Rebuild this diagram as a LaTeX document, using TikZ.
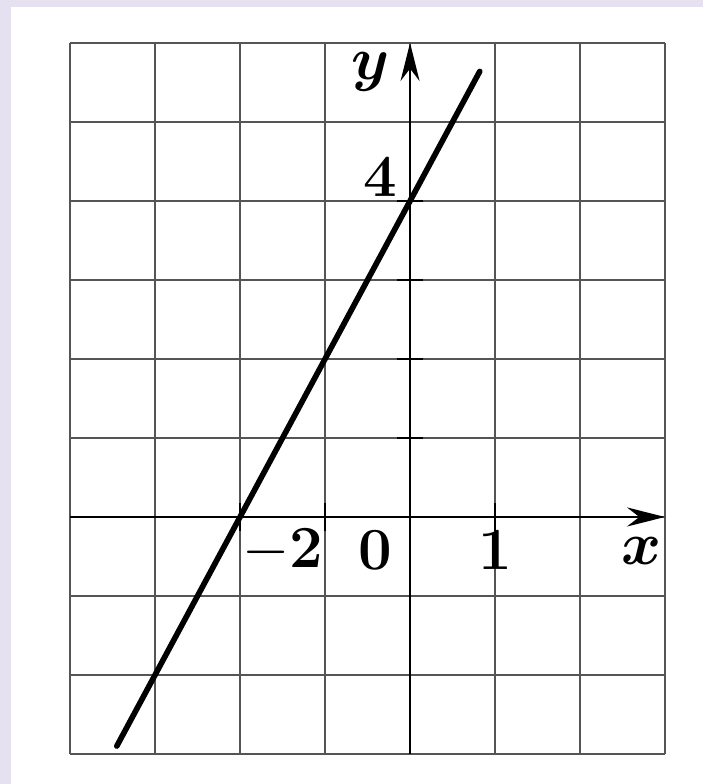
\documentclass[tikz,border=0pt]{standalone}
\usepackage{amsmath}
\usetikzlibrary{arrows.meta}
\definecolor{bglilac}{RGB}{229,225,240}
\definecolor{gridgray}{RGB}{85,85,85}

\begin{document}
\begin{tikzpicture}[x=0.85cm, y=0.79cm, >={Stealth[length=3.8mm,width=1.9mm]}]
    % 背景 (淡紫色边框 + 白色纸面)
    \fill[bglilac] (-4.824,-3.380) rectangle (3.447,6.544);
    \fill[white] (-4.694,-3.380) rectangle (3.447,6.456);
    \useasboundingbox (-4.824,-3.380) rectangle (3.447,6.544);

    % 画网格
    \draw[gridgray, line width=0.4pt, step=1] (-4,-3) grid (3,6);

    % 画坐标轴
    \draw[->, line width=0.8pt] (-4,0) -- (3,0);
    \draw[->, line width=0.8pt] (0,-3) -- (0,6);

    % 坐标轴上的刻度
    \foreach \x in {-2,-1,1} \draw[line width=0.8pt] (\x,-0.18) -- (\x,0.18);
    \foreach \y in {1,...,4} \draw[line width=0.8pt] (-0.15,\y) -- (0.15,\y);

    % 画直线 y = 2x + 4
    \draw[line width=1.6pt, line cap=round, domain=-3.45:0.82, samples=2] plot (\x,{2*\x+4});

    % 标注坐标轴
    \node[font=\fontsize{18}{20}\selectfont] (ylab) at (-0.47,5.63) {$\boldsymbol{y}$};
    \node[font=\fontsize{18}{20}\selectfont] (xlab) at (2.72,-0.43) {$\boldsymbol{x}$};
    % 标注刻度值
    \node[font=\fontsize{17}{20}\selectfont\bfseries] (four) at (-0.35,4.30) {4};
    \node[font=\fontsize{17}{20}\selectfont\bfseries] (mtwo) at (-1.5,-0.42) {$-$2};
    \node[font=\fontsize{17}{20}\selectfont\bfseries] (zero) at (-0.41,-0.42) {0};
    \node[font=\fontsize{17}{20}\selectfont\bfseries] (one) at (1.0,-0.42) {1};
\end{tikzpicture}
\end{document}
